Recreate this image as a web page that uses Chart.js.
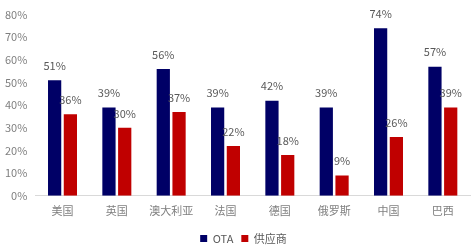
<!DOCTYPE html>
<html>
<head>
<meta charset="utf-8">
<script src="https://cdn.jsdelivr.net/npm/chart.js@4"></script>
<style>
  html, body { margin: 0; padding: 0; background: #fff; }
  #wrap { width: 476px; height: 247px; }
</style>
</head>
<body>
<div id="wrap"><canvas id="chart"></canvas></div>
<script>
// data
const countries = ['美国', '英国', '澳大利亚', '法国', '德国', '俄罗斯', '中国', '巴西'];
const otaShare = [51, 39, 56, 39, 42, 39, 74, 57];
const supplierShare = [36, 30, 37, 22, 18, 9, 26, 39];
const yTicks = [0, 10, 20, 30, 40, 50, 60, 70, 80];

const FONT = "'Liberation Sans Narrow', 'Noto Sans CJK SC', sans-serif";
const GREY = '#7f7f7f';

// draws the value above each bar
const barLabels = {
  id: 'barLabels',
  afterDatasetsDraw(chart) {
    const {ctx} = chart;
    ctx.save();
    ctx.font = '11px ' + FONT;
    ctx.fillStyle = '#595959';
    ctx.textAlign = 'center';
    ctx.textBaseline = 'bottom';
    chart.data.datasets.forEach((ds, i) => {
      chart.getDatasetMeta(i).data.forEach((bar, j) => {
        ctx.fillText(ds.data[j] + '%', bar.x, bar.y - 9);
      });
    });
    ctx.restore();
  }
};

// nudge the legend a little to the right, like the original
const legendShift = {
  id: 'legendShift',
  afterLayout(chart) {
    chart.legend.left += 10;
    chart.legend.right += 10;
  }
};

new Chart(document.getElementById('chart'), {
  type: 'bar',
  data: {
    labels: countries,
    datasets: [
      {label: 'OTA', data: otaShare, backgroundColor: '#000066'},
      {label: '供应商', data: supplierShare, backgroundColor: '#C00000'}
    ]
  },
  options: {
    responsive: true,
    maintainAspectRatio: false,
    animation: false,
    layout: {padding: {top: 8, right: 6, left: -3, bottom: -7}},
    datasets: {bar: {categoryPercentage: 0.58, barPercentage: 0.84}},
    plugins: {
      legend: {
        position: 'bottom',
        labels: {
          boxWidth: 7, boxHeight: 7, padding: 8,
          color: '#595959', font: {size: 11, family: FONT}
        }
      },
      tooltip: {enabled: false}
    },
    scales: {
      x: {
        grid: {display: false, drawTicks: false, tickLength: 0},
        border: {color: '#d9d9d9'},
        ticks: {
          color: GREY, font: {size: 11, family: FONT}, padding: 8,
          maxRotation: 0, autoSkip: false
        }
      },
      y: {
        min: 0, max: 80,
        afterBuildTicks(axis) { axis.ticks = yTicks.map(v => ({value: v})); },
        grid: {display: false, drawTicks: false, tickLength: 0},
        border: {display: false},
        ticks: {
          color: GREY, font: {size: 11, family: FONT}, padding: 8,
          callback: v => v + '%'
        }
      }
    }
  },
  plugins: [barLabels, legendShift]
});
</script>
</body>
</html>
